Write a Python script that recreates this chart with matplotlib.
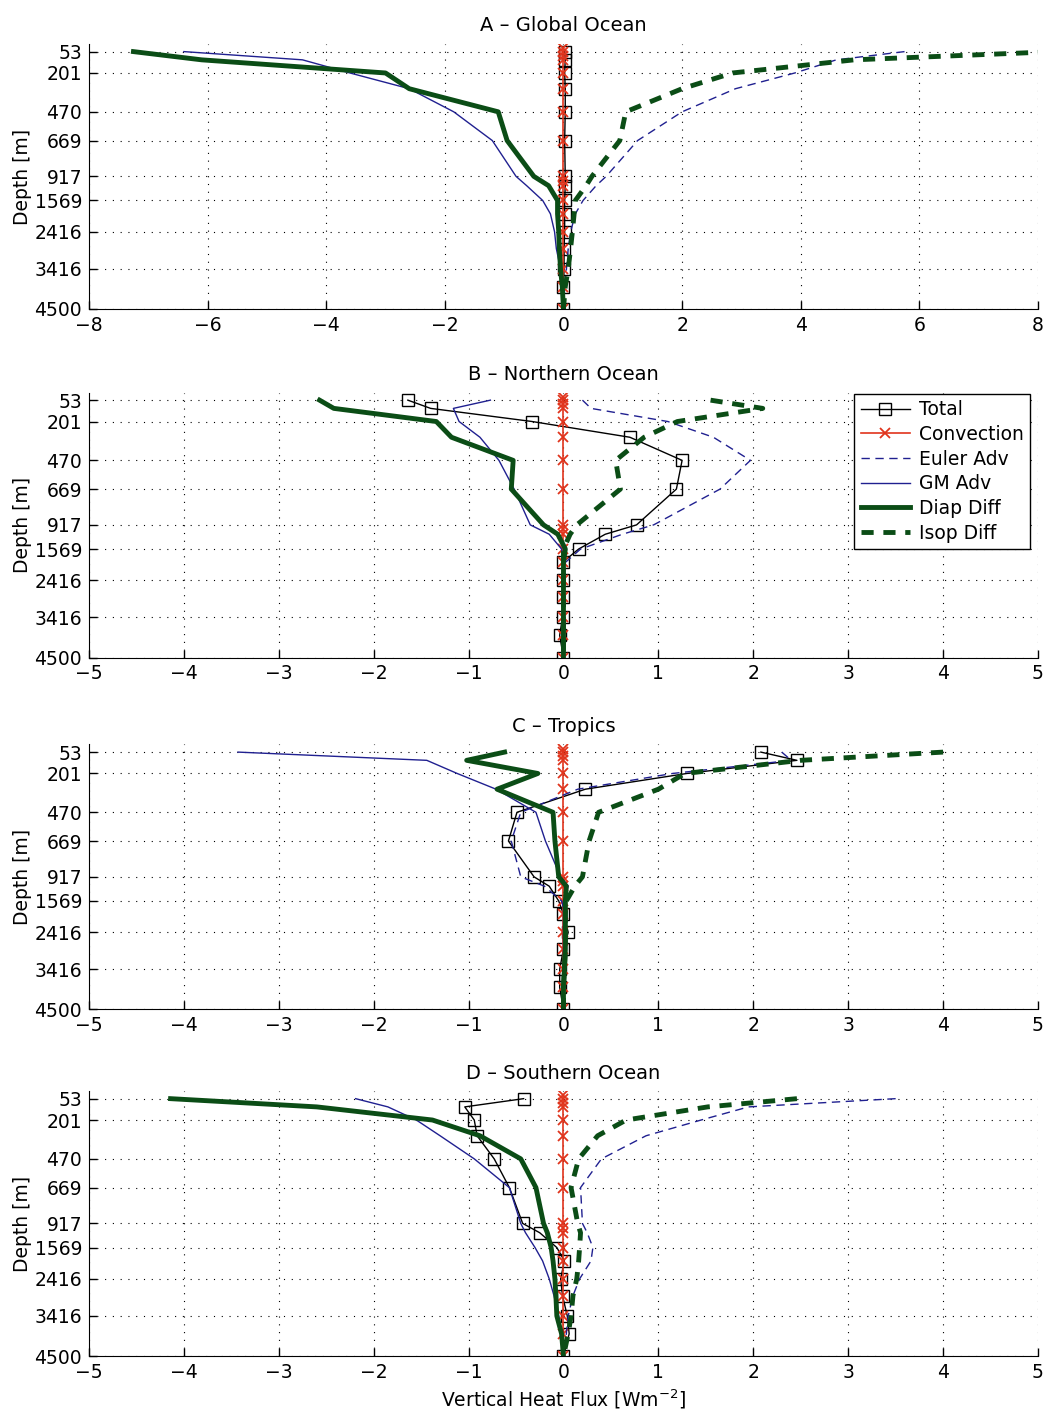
import numpy as np
import matplotlib
matplotlib.use('Agg')
import matplotlib.pyplot as plt

# model levels (m)
levels = [53, 110, 201, 310, 470, 669, 917, 1170, 1569, 1930, 2416, 2870, 3416, 3900, 4500]
conv_depth = [30, 53, 80, 110, 201, 310, 470, 669, 917, 1040, 1170, 1569, 1930, 2416, 2870, 3416, 3900, 4500]
depth_ticks = [53, 201, 470, 669, 917, 1569, 2416, 3416, 4500]

titles = ['A \u2013 Global Ocean', 'B \u2013 Northern Ocean', 'C \u2013 Tropics', 'D \u2013 Southern Ocean']
xlims = [(-8, 8), (-5, 5), (-5, 5), (-5, 5)]

# heat flux components [W m-2], one list per region, values at `levels`
total = [
    [0.02, 0.03, 0.02, 0.03, 0.03, 0.02, 0.03, 0.03, 0.02, 0.02, 0.02, 0.01, 0.01, 0.0, 0.0],
    [-1.64, -1.40, -0.33, 0.70, 1.25, 1.19, 0.77, 0.44, 0.16, -0.01, 0.0, 0.0, -0.01, -0.04, 0.0],
    [2.08, 2.46, 1.30, 0.23, -0.49, -0.58, -0.31, -0.15, -0.05, 0.0, 0.05, 0.0, -0.04, -0.04, 0.0],
    [-0.42, -1.04, -0.94, -0.91, -0.73, -0.57, -0.43, -0.25, -0.07, 0.01, -0.03, -0.01, 0.04, 0.06, 0.0],
]
convection = [0.0] * len(conv_depth)
euler_adv = [
    [5.75, 4.6, 3.9, 2.9, 2.0, 1.25, 0.72, 0.55, 0.33, 0.2, 0.12, 0.08, 0.05, 0.02, 0.0],
    [0.2, 0.29, 1.1, 1.58, 1.97, 1.65, 0.95, 0.62, 0.18, 0.02, 0.01, 0.01, 0.0, 0.0, 0.0],
    [2.3, 2.4, 1.15, 0.15, -0.45, -0.55, -0.45, -0.2, -0.02, 0.02, 0.02, 0.01, 0.0, 0.0, 0.0],
    [3.5, 1.95, 1.45, 0.87, 0.40, 0.18, 0.2, 0.25, 0.31, 0.29, 0.17, 0.1, 0.05, 0.03, 0.0],
]
gm_adv = [
    [-6.4, -4.4, -3.6, -2.6, -1.85, -1.2, -0.8, -0.62, -0.35, -0.22, -0.15, -0.12, -0.05, -0.02, 0.0],
    [-0.77, -1.16, -1.1, -0.88, -0.68, -0.52, -0.35, -0.15, -0.02, 0.0, 0.0, 0.0, 0.0, 0.0, 0.0],
    [-3.43, -1.44, -1.12, -0.71, -0.29, -0.19, -0.03, 0.05, 0.0, 0.0, 0.0, 0.0, 0.0, 0.0, 0.0],
    [-2.19, -1.85, -1.55, -1.3, -0.94, -0.57, -0.45, -0.4, -0.3, -0.22, -0.15, -0.1, -0.05, -0.02, 0.0],
]
diap_diff = [
    [-7.25, -6.1, -3.0, -2.6, -1.1, -0.95, -0.5, -0.25, -0.1, -0.1, -0.08, -0.07, -0.05, -0.02, 0.0],
    [-2.57, -2.42, -1.34, -1.18, -0.53, -0.55, -0.21, -0.06, 0.02, 0.0, 0.0, 0.0, 0.0, 0.0, 0.0],
    [-0.62, -1.02, -0.27, -0.70, -0.11, -0.09, -0.05, 0.03, 0.02, 0.02, 0.02, 0.02, 0.01, 0.0, 0.0],
    [-4.14, -2.6, -1.38, -0.88, -0.45, -0.29, -0.21, -0.17, -0.13, -0.11, -0.09, -0.08, -0.07, -0.02, 0.0],
]
isop_diff = [
    [8.3, 4.9, 2.85, 2.0, 1.05, 0.95, 0.48, 0.38, 0.2, 0.18, 0.15, 0.12, 0.08, 0.03, 0.0],
    [1.55, 2.1, 1.2, 0.85, 0.55, 0.6, 0.14, 0.07, 0.0, 0.0, 0.0, 0.0, 0.0, 0.0, 0.0],
    [4.0, 2.5, 1.28, 1.0, 0.37, 0.27, 0.2, 0.12, 0.03, 0.02, 0.02, 0.02, 0.01, 0.0, 0.0],
    [2.46, 1.52, 0.66, 0.36, 0.16, 0.08, 0.15, 0.18, 0.17, 0.16, 0.14, 0.1, 0.08, 0.05, 0.0],
]

red = '#e0341c'
blue = '#202090'
green = '#0b4d16'

# depth axis stretched above the break
brk = 917.0
ratio = 3.9


def fwd(d):
    d = np.asarray(d, dtype=float)
    return np.where(d <= brk, d, brk + (d - brk) / ratio)


def inv(y):
    y = np.asarray(y, dtype=float)
    return np.where(y <= brk, y, brk + (y - brk) * ratio)


plt.rcParams['font.family'] = 'DejaVu Sans'
plt.rcParams['font.size'] = 13.5

fig = plt.figure(figsize=(10.49, 14.18), dpi=100)
bottoms = [0.7821, 0.5363, 0.2881, 0.0437]

for i in range(4):
    ax = fig.add_axes([0.0848, bottoms[i], 0.9047, 0.1869])
    ax.set_yscale('function', functions=(fwd, inv))

    ax.plot(total[i], levels, '-s', color='black', lw=1.0, ms=8, mfc='none', mew=1.0, label='Total')
    ax.plot(convection, conv_depth, '-x', color=red, lw=1.2, ms=7, mew=1.3, label='Convection')
    ax.plot(euler_adv[i], levels, color=blue, lw=1.0, dashes=(6, 4), label='Euler Adv')
    ax.plot(gm_adv[i], levels, color=blue, lw=1.0, label='GM Adv')
    ax.plot(diap_diff[i], levels, color=green, lw=3.5, label='Diap Diff')
    ax.plot(isop_diff[i], levels, color=green, lw=3.5, dashes=(2.5, 2), label='Isop Diff')

    ax.set_xlim(*xlims[i])
    ax.set_ylim(4500, 0)
    ax.set_yticks(depth_ticks)
    ax.set_yticklabels([str(d) for d in depth_ticks])
    ax.yaxis.set_minor_locator(matplotlib.ticker.NullLocator())
    if i == 0:
        ax.set_xticks(np.arange(-8, 9, 2))
    else:
        ax.set_xticks(np.arange(-5, 6, 1))

    ax.grid(True, color='black', lw=0.8, dashes=(1, 6))
    ax.tick_params(direction='in', length=6, width=1, top=False, right=False, pad=5)
    ax.spines['top'].set_visible(False)
    ax.spines['right'].set_visible(False)
    ax.set_title(titles[i], pad=9, fontsize=14)
    ax.set_ylabel('Depth [m]', labelpad=2)

    if i == 1:
        leg = ax.legend(loc='upper right', bbox_to_anchor=(0.992, 0.995), borderaxespad=0,
                        fontsize=13.5, numpoints=1, handlelength=2.6, handletextpad=0.5,
                        labelspacing=0.3, borderpad=0.35, fancybox=False, framealpha=1)
        leg.get_frame().set_edgecolor('black')
        leg.get_frame().set_linewidth(1.0)
    if i == 3:
        ax.set_xlabel('Vertical Heat Flux [Wm$^{-2}$]')

fig.savefig('out.png', dpi=100)
